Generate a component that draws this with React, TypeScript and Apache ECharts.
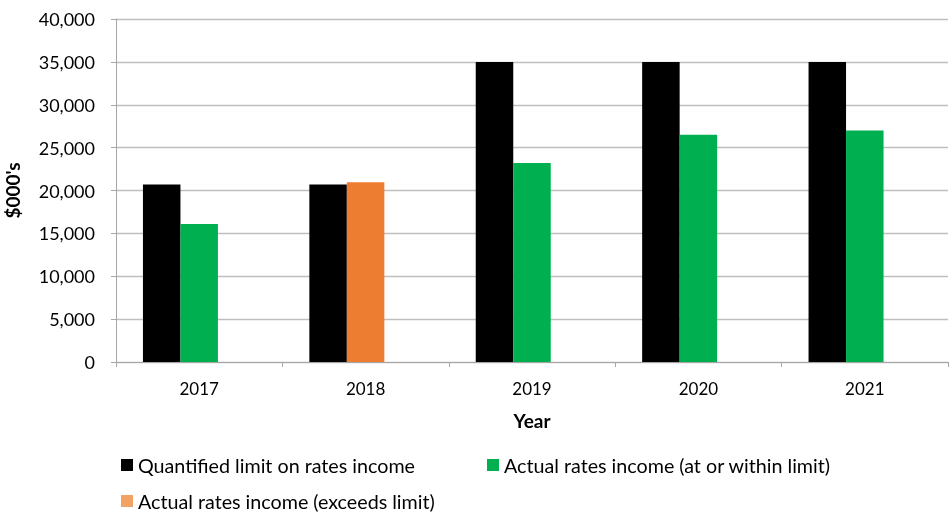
import React, { useEffect, useRef } from "react";
import * as echarts from "echarts";

const years = ["2017", "2018", "2019", "2020", "2021"];
const limitValues = [20700, 20700, 35000, 35000, 35000];
const withinLimit: (number | string)[] = [16100, "-", 23200, 26500, 27000];
const exceedsLimit: (number | string)[] = ["-", 20950, "-", "-", "-"];
const emptySlot: (number | string)[] = ["-", "-", "-", "-", "-"];
const yTicks = { min: 0, max: 40000, interval: 5000 };

const FONT = "Lato, 'Open Sans', sans-serif";

export default function App() {
  const ref = useRef<HTMLDivElement>(null);
  useEffect(() => {
    if (!ref.current) return;
    const chart = echarts.init(ref.current, null, { renderer: "svg" });
    const legendBase = {
      selectedMode: false,
      icon: "rect",
      itemWidth: 12,
      itemHeight: 12,
      itemGap: 6,
      padding: 0,
      textStyle: { fontSize: 19.7, lineHeight: 22, color: "#000", fontFamily: FONT },
    };
    chart.setOption({
      animation: false,
      textStyle: { fontFamily: FONT },
      grid: { left: 116, right: 2, top: 19, bottom: 151, outerBoundsMode: "none", containLabel: false },
      legend: [
        { ...legendBase, data: ["Quantified limit on rates income"], left: 121, top: 454 },
        { ...legendBase, data: ["Actual rates income (at or within limit)"], left: 487, top: 454 },
        {
          ...legendBase,
          data: [{ name: "Actual rates income (exceeds limit)", itemStyle: { color: "#f4a262" } }],
          left: 121,
          top: 490,
        },
      ],
      xAxis: {
        type: "category",
        data: years,
        name: "Year",
        nameLocation: "middle",
        nameGap: 49,
        nameTextStyle: { fontSize: 19, fontWeight: "bold", color: "#000", fontFamily: FONT },
        axisLine: { lineStyle: { color: "#a6a6a6", width: 1 } },
        axisTick: { show: true, length: 5, lineStyle: { color: "#a6a6a6" } },
        axisLabel: { fontSize: 17, color: "#000", margin: 18, fontFamily: FONT },
      },
      yAxis: {
        type: "value",
        min: yTicks.min,
        max: yTicks.max,
        interval: yTicks.interval,
        name: "$000's",
        nameLocation: "middle",
        nameGap: 94,
        nameTextStyle: { fontSize: 19, fontWeight: "bold", color: "#000", fontFamily: FONT },
        axisLine: { show: true, lineStyle: { color: "#a6a6a6", width: 1 } },
        axisTick: { show: true, length: 5, lineStyle: { color: "#a6a6a6" } },
        axisLabel: {
          fontSize: 18,
          color: "#000",
          margin: 21,
          fontFamily: FONT,
          formatter: (v: number) => v.toLocaleString("en-US"),
        },
        splitLine: { lineStyle: { color: "#bfbfbf", width: 1.3 } },
      },
      series: [
        {
          name: "Quantified limit on rates income",
          type: "bar",
          data: limitValues,
          barWidth: 37.5,
          barGap: "0%",
          itemStyle: { color: "#000000" },
        },
        {
          name: "Actual rates income (at or within limit)",
          type: "bar",
          stack: "actual",
          data: withinLimit,
          barWidth: 37.5,
          barGap: "0%",
          itemStyle: { color: "#00b050" },
        },
        {
          name: "Actual rates income (exceeds limit)",
          type: "bar",
          stack: "actual",
          data: exceedsLimit,
          barWidth: 37.5,
          barGap: "0%",
          itemStyle: { color: "#ed7d31" },
        },
        {
          name: "spacer",
          type: "bar",
          data: emptySlot,
          barWidth: 37.5,
          barGap: "0%",
          itemStyle: { color: "transparent" },
        },
      ],
    });
    return () => chart.dispose();
  }, []);
  return (
    <div
      ref={ref}
      style={{ position: "fixed", left: 0, top: 0, width: 950, height: 513 }}
    />
  );
}
